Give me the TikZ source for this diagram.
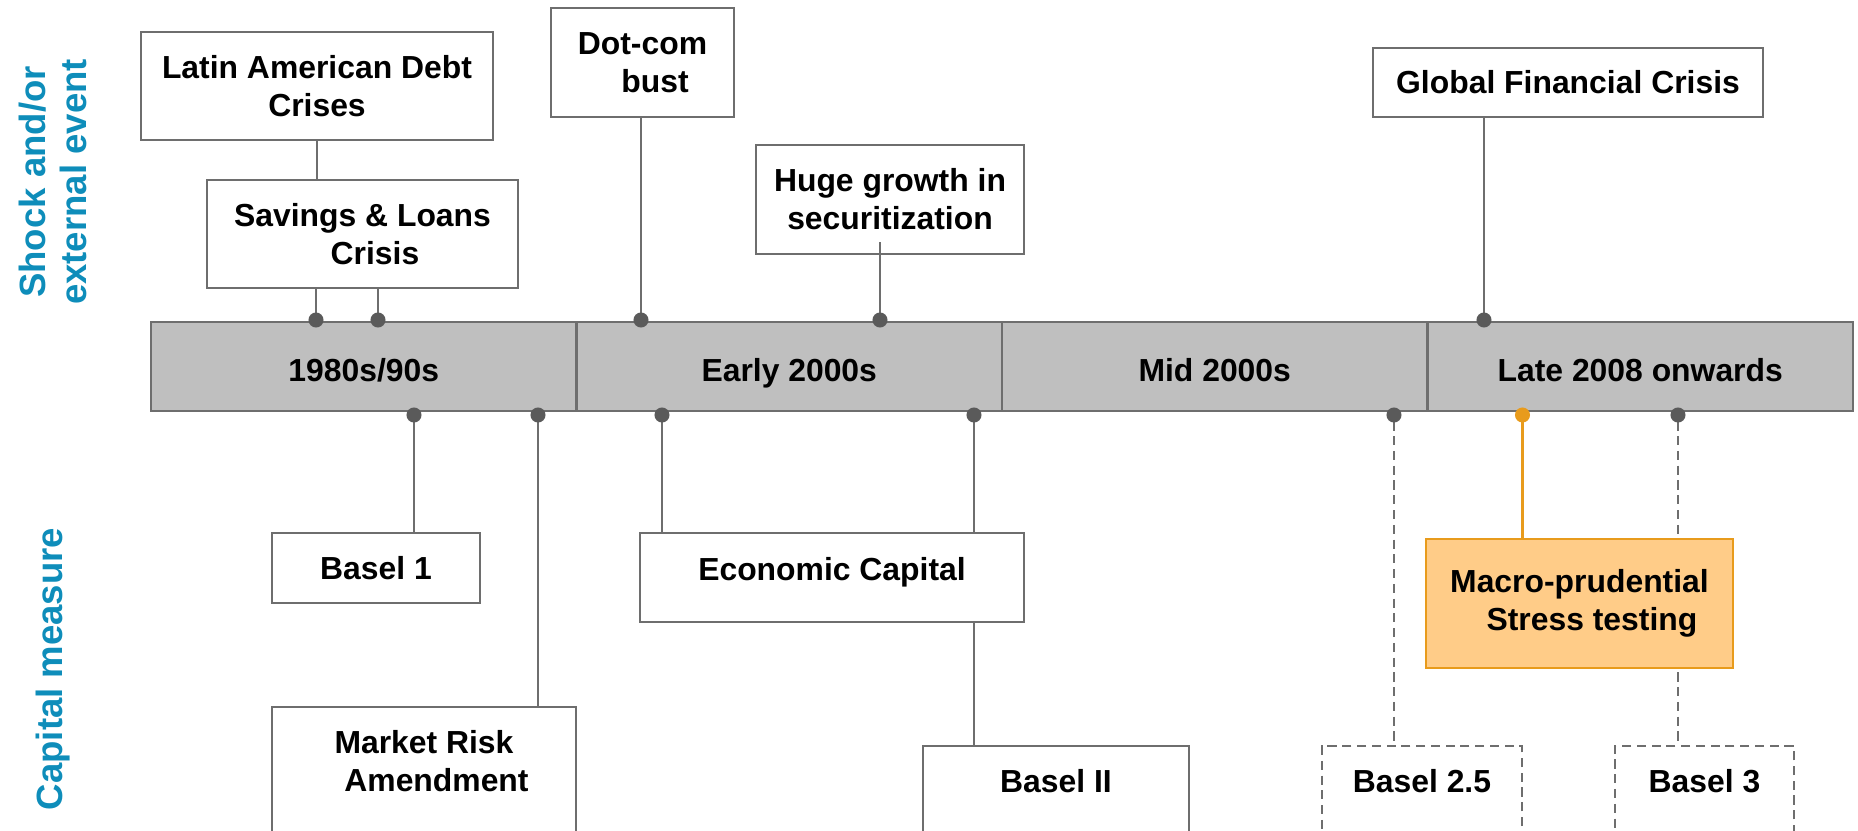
\documentclass[tikz,border=0pt]{standalone}
\usepackage{fontspec}
\setmainfont{Liberation Sans}
\usetikzlibrary{arrows.meta,positioning}

\definecolor{linegray}{HTML}{6E6E6E}
\definecolor{dotgray}{HTML}{5A5A5A}
\definecolor{barfill}{HTML}{BFBFBF}
\definecolor{sidecol}{HTML}{0E8DBA}
\definecolor{orangeln}{HTML}{E89B1C}
\definecolor{orangefill}{HTML}{FFCC88}

\begin{document}
\begin{tikzpicture}[
  node distance=0pt,
  boxtext/.style={font=\fontsize{9.07pt}{10.77pt}\selectfont\bfseries, align=center},
  evtbox/.style={draw=linegray, line width=0.6pt, fill=white, boxtext, inner sep=0pt},
  erabox/.style={evtbox, fill=barfill, minimum width=4.255cm, minimum height=0.89cm, outer sep=0pt, text height=1.6ex, text depth=0pt},
  hilite/.style={evtbox, draw=orangeln, fill=orangefill},
  dashbox/.style={evtbox, dash pattern=on 2.6pt off 1.6pt},
  cutbox/.style={minimum height=1.6cm, anchor=north},
  sidelabel/.style={font=\fontsize{10.4pt}{11.6pt}\selectfont\bfseries, text=sidecol, align=center, rotate=90},
  tieline/.style={draw=linegray, line width=0.6pt},
  dashtie/.style={tieline, dash pattern=on 2.6pt off 1.6pt},
  dotstart/.style={{Circle[length=0.15cm, color=dotgray]}-},
  orangetie/.style={draw=orangeln, line width=0.6pt, {Circle[length=0.15cm]}-}
]
\useasboundingbox (0,0) rectangle (18.58,8.30);
\clip (0,0) rectangle (18.58,8.30);

% side titles
\node[sidelabel] (shock) at (0.53,6.48) {Shock and/or\\external event};
\node[sidelabel] (capm) at (0.53,1.61) {Capital measure};

% the time bar
\node[erabox, anchor=west] (era1) at (1.51,4.635) {1980s/90s};
\node[erabox, right=of era1] (era2) {Early 2000s};
\node[erabox, right=of era2] (era3) {Mid 2000s};
\node[erabox, right=of era3] (era4) {Late 2008 onwards};

% events above the bar
\node[evtbox, minimum width=3.52cm, minimum height=1.08cm] (latam) at (3.17,7.44) {Latin American Debt\\Crises};
\node[evtbox, minimum width=3.11cm, minimum height=1.08cm] (snl) at (3.625,5.96) {Savings \& Loans\\\hspace*{0.25cm}Crisis};
\node[evtbox, minimum width=1.83cm, minimum height=1.09cm] (dotcom) at (6.425,7.675) {Dot-com\\\hspace*{0.25cm}bust};
\node[evtbox, minimum width=2.68cm, minimum height=1.09cm] (secur) at (8.90,6.305) {Huge growth in\\securitization};
\node[evtbox, minimum width=3.90cm, minimum height=0.69cm] (gfc) at (15.68,7.475) {Global Financial Crisis};

% capital measures below the bar
\node[evtbox, minimum width=2.08cm, minimum height=0.70cm] (basel1) at (3.76,2.62) {Basel 1};
\node[evtbox, minimum width=3.84cm, minimum height=0.89cm, text depth=0.18cm] (ecocap) at (8.32,2.525) {Economic Capital};
\node[evtbox, cutbox, minimum width=3.04cm] (mra) at (4.24,1.24) {};
\node[boxtext] (mratxt) at ([yshift=-0.55cm]mra.north) {Market Risk\\\hspace*{0.25cm}Amendment};
\node[evtbox, cutbox, minimum width=2.66cm] (basel2) at (10.56,0.85) {};
\node[boxtext] (basel2txt) at ([yshift=-0.36cm]basel2.north) {Basel II};
\node[dashbox, cutbox, minimum width=2.005cm] (basel25) at (14.22,0.85) {};
\node[boxtext] (basel25txt) at ([yshift=-0.36cm]basel25.north) {Basel 2.5};
\node[dashbox, cutbox, minimum width=1.79cm] (basel3) at (17.045,0.85) {};
\node[boxtext] (basel3txt) at ([yshift=-0.36cm]basel3.north) {Basel 3};

% dot positions on the bar
\coordinate (sl1) at (3.16,5.025);
\coordinate (sl2) at (3.78,5.025);
\coordinate (dc) at (6.41,5.025);
\coordinate (sg) at (8.80,5.025);
\coordinate (gf) at (14.84,5.025);
\coordinate (b1) at (4.14,4.225);
\coordinate (mr) at (5.38,4.225);
\coordinate (ec) at (6.62,4.225);
\coordinate (b2) at (9.74,4.225);
\coordinate (b25) at (13.94,4.225);
\coordinate (ms) at (15.225,4.225);
\coordinate (b3) at (16.78,4.225);

\draw[tieline] (latam.south) -- (latam.south |- snl.north);
\draw[tieline, dotstart] (sl1) -- (sl1 |- snl.south);
\draw[tieline, dotstart] (sl2) -- (sl2 |- snl.south);
\draw[tieline, dotstart] (dc) -- (dc |- dotcom.south);
\draw[tieline, dotstart] (sg) -- ([yshift=0.13cm]sg |- secur.south);
\draw[tieline, dotstart] (gf) -- (gf |- gfc.south);

\draw[tieline, dotstart] (b1) -- (b1 |- basel1.north);
\draw[tieline, dotstart] (mr) -- (mr |- mra.north);
\draw[tieline, dotstart] (ec) -- (ec |- ecocap.north);
\draw[tieline, dotstart] (b2) -- (b2 |- ecocap.north);
\draw[tieline] (b2 |- ecocap.south) -- (b2 |- basel2.north);
\draw[dashtie, dotstart] (b25) -- (b25 |- basel25.north);
\draw[dashtie, dotstart] (b3) -- (b3 |- basel3.north);

% stress testing box sits over the Basel 3 line
\node[hilite, minimum width=3.07cm, minimum height=1.29cm] (macro) at (15.795,2.265) {Macro-prudential\\\hspace*{0.25cm}Stress testing};
\draw[orangetie] (ms) -- (ms |- macro.north);
\end{tikzpicture}
\end{document}
